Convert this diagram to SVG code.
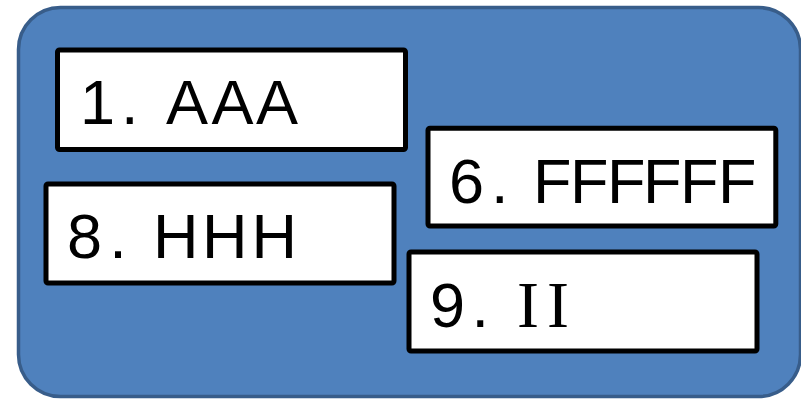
<svg xmlns="http://www.w3.org/2000/svg" width="801" height="400" viewBox="0 0 801 400">
  <style>
    .panel { fill: #4F81BD; stroke: #385D8A; stroke-width: 3.5; }
    .box { fill: #FFFFFF; stroke: #000000; stroke-width: 5; }
    .lbl { font-family: "Liberation Sans", Arial, sans-serif; font-size: 63px; fill: #000000; }
    .serif { font-family: "Liberation Serif", "Times New Roman", serif; font-size: 66px; }
  </style>
  <rect width="801" height="400" fill="#FFFFFF"/>
  <g id="panel">
    <rect class="panel" x="18.5" y="7.5" width="782" height="389" rx="42" ry="42"/>
  </g>
  <g id="node1">
    <rect class="box" x="57.5" y="50" width="348" height="99.5" rx="2"/>
    <text class="lbl" y="124"><tspan x="80">1</tspan><tspan x="121">.</tspan> <tspan x="166 211.5 256">AAA</tspan></text>
  </g>
  <g id="node6">
    <rect class="box" x="428" y="128.2" width="347.8" height="97.8" rx="2"/>
    <text class="lbl" y="203"><tspan x="449">6</tspan><tspan x="491">.</tspan> <tspan x="533 570 607 643 680 718">FFFFFF</tspan></text>
  </g>
  <g id="node8">
    <rect class="box" x="46" y="184" width="348" height="99" rx="2"/>
    <text class="lbl" y="258"><tspan x="67">8</tspan><tspan x="109.3">.</tspan> <tspan x="153 202 251.5">HHH</tspan></text>
  </g>
  <g id="node9">
    <rect class="box" x="409" y="252" width="348" height="99" rx="2"/>
    <text class="lbl" y="327"><tspan x="430">9</tspan><tspan x="471.6">.</tspan> <tspan class="serif" x="517 547">II</tspan></text>
  </g>
</svg>
